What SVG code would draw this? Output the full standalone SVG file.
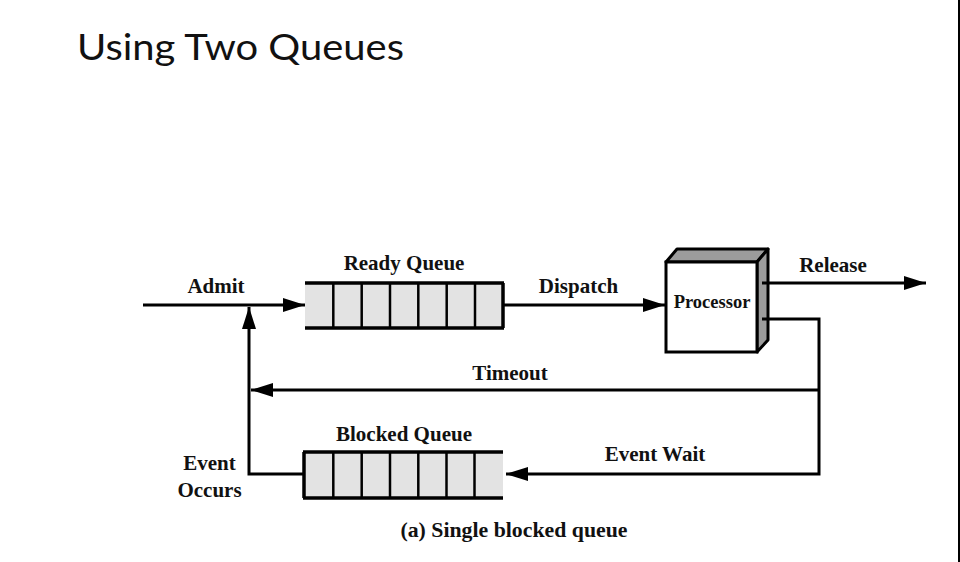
<svg xmlns="http://www.w3.org/2000/svg" width="960" height="562" viewBox="0 0 960 562">
<style>
.t{font-family:"Liberation Serif","Times New Roman",serif;font-weight:bold;font-size:21px;fill:#111;text-anchor:middle}
.ln{fill:none;stroke:#000;stroke-width:3}
.qf{fill:#e3e3e3;stroke:none}
.qh{stroke:#000;stroke-width:3.5}
.qv{stroke:#000;stroke-width:2.5}
.side{fill:#9c9c9c;stroke:#000;stroke-width:3;stroke-linejoin:round}
</style>
<defs>
<marker id="ah" viewBox="0 0 22 14" refX="22" refY="7" markerWidth="22" markerHeight="14" markerUnits="userSpaceOnUse" orient="auto">
<path d="M0,0 L22,7 L0,14 z" fill="#000"/>
</marker>
</defs>
<rect x="0" y="0" width="960" height="562" fill="#fff"/>
<rect x="958" y="0" width="2" height="562" fill="#000"/>
<text x="77" y="59.5" font-family="Lato,'Open Sans',sans-serif" font-size="37" fill="#111" textLength="327" lengthAdjust="spacingAndGlyphs">Using Two Queues</text>

<g id="ready-queue">
<rect class="qf" x="305" y="283" width="198" height="45"/>
<line class="qh" x1="305" y1="283" x2="504" y2="283"/>
<line class="qh" x1="305" y1="328" x2="504" y2="328"/>
<line class="qv" x1="333.3" y1="283" x2="333.3" y2="328"/>
<line class="qv" x1="361.7" y1="283" x2="361.7" y2="328"/>
<line class="qv" x1="390" y1="283" x2="390" y2="328"/>
<line class="qv" x1="418.3" y1="283" x2="418.3" y2="328"/>
<line class="qv" x1="446.7" y1="283" x2="446.7" y2="328"/>
<line class="qv" x1="475" y1="283" x2="475" y2="328"/>
<line class="qh" x1="503" y1="283" x2="503" y2="328"/>
<text class="t" x="404" y="270">Ready Queue</text>
</g>

<g id="blocked-queue">
<rect class="qf" x="304" y="452" width="199" height="46"/>
<line class="qh" x1="303" y1="452" x2="503" y2="452"/>
<line class="qh" x1="303" y1="498" x2="503" y2="498"/>
<line class="qh" x1="304" y1="452" x2="304" y2="498"/>
<line class="qv" x1="333.3" y1="452" x2="333.3" y2="498"/>
<line class="qv" x1="361.7" y1="452" x2="361.7" y2="498"/>
<line class="qv" x1="390" y1="452" x2="390" y2="498"/>
<line class="qv" x1="418.3" y1="452" x2="418.3" y2="498"/>
<line class="qv" x1="446.5" y1="452" x2="446.5" y2="498"/>
<line class="qv" x1="474.5" y1="452" x2="474.5" y2="498"/>
<text class="t" x="404" y="440.5">Blocked Queue</text>
</g>

<g id="processor">
<polygon class="side" points="666,262 677,249 768,249 757,262"/>
<polygon class="side" points="757,262 768,249 768,340 757,352"/>
<rect x="666" y="262" width="91" height="90" fill="#fff" stroke="#000" stroke-width="3"/>
<text class="t" x="712" y="308" style="font-size:18.5px">Processor</text>
</g>

<g id="connectors">
<path class="ln" d="M143,305 H305" marker-end="url(#ah)"/>
<path class="ln" d="M304,474 H249 V307" marker-end="url(#ah)"/>
<path class="ln" d="M503,305 H665" marker-end="url(#ah)"/>
<path class="ln" d="M762,283 H926" marker-end="url(#ah)"/>
<path class="ln" d="M762,319 H819 V474 H506" marker-end="url(#ah)"/>
<path class="ln" d="M819,390 H251" marker-end="url(#ah)"/>
</g>

<g id="labels">
<text class="t" x="216" y="293">Admit</text>
<text class="t" x="578.5" y="293">Dispatch</text>
<text class="t" x="833" y="271.5">Release</text>
<text class="t" x="510" y="379.5">Timeout</text>
<text class="t" x="655" y="461">Event Wait</text>
<text class="t" x="209.5" y="470">Event</text>
<text class="t" x="209.5" y="497">Occurs</text>
<text class="t" x="514" y="536.5" style="font-size:21.8px">(a) Single blocked queue</text>
</g>
</svg>
